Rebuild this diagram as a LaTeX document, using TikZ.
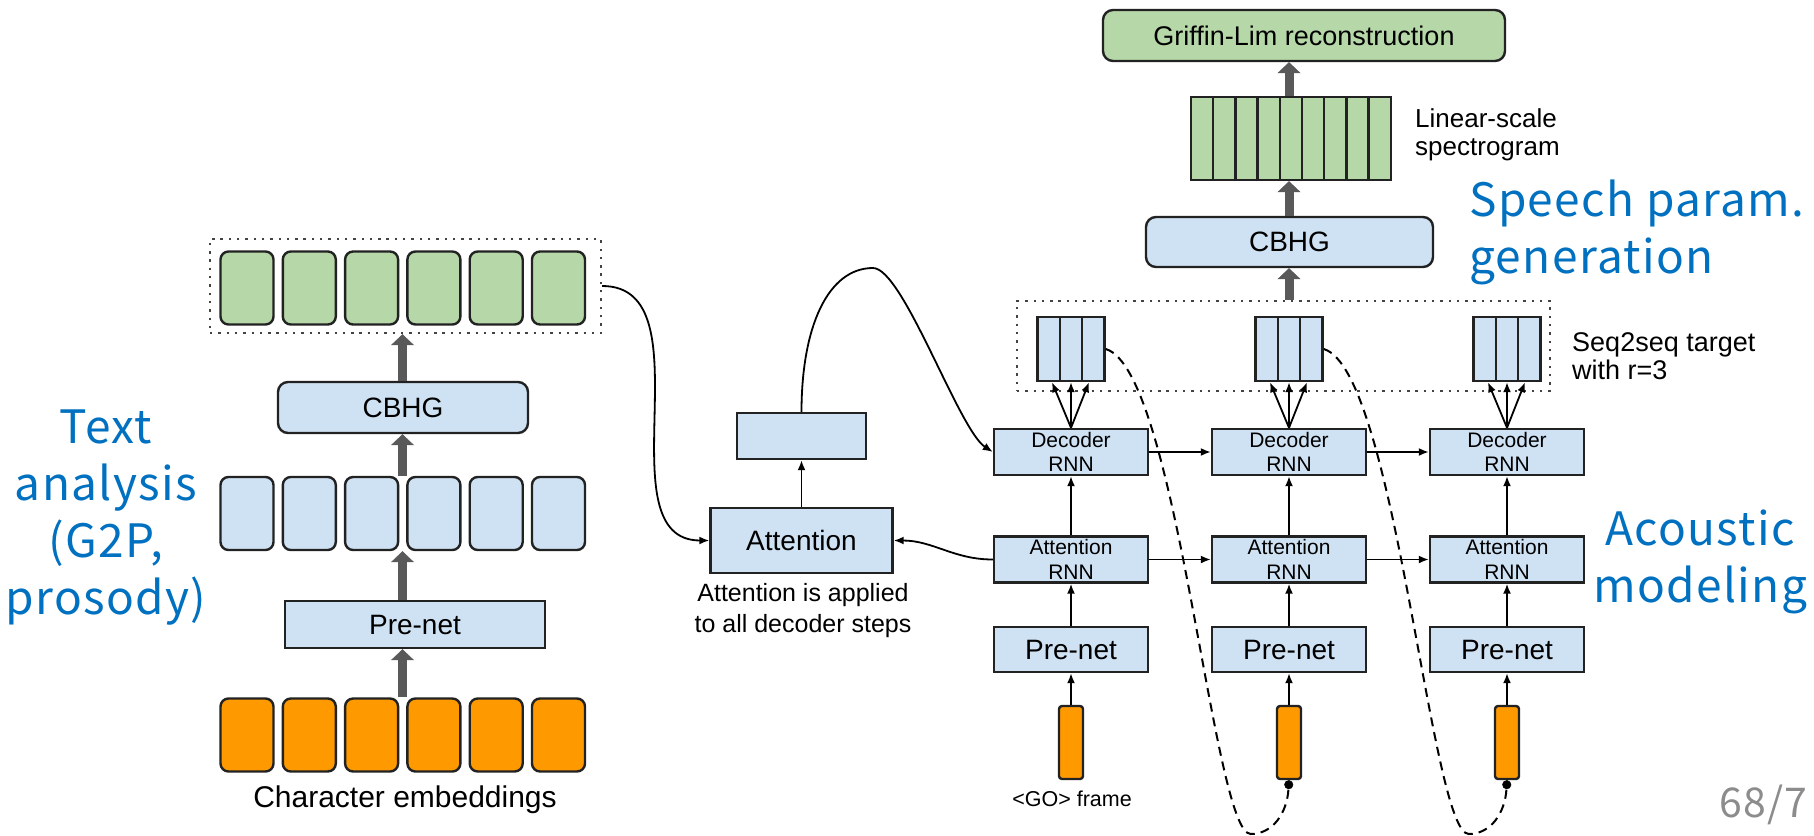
\documentclass[tikz,border=0pt]{standalone}
\usepackage{fontspec}
\setmainfont{Liberation Sans}
\newfontfamily\slidefont[LetterSpace=3]{Noto Sans CJK JP}
\usetikzlibrary{arrows.meta}
\definecolor{boxblue}{HTML}{CFE2F3}
\definecolor{boxgreen}{HTML}{B6D7A8}
\definecolor{boxorange}{HTML}{FF9900}
\definecolor{boxline}{HTML}{222222}
\definecolor{fatgray}{HTML}{595959}
\definecolor{slideblue}{HTML}{0070C0}
\definecolor{pagegray}{HTML}{8C8C8C}
\newcommand{\pxfont}[2]{\fontsize{#1pt}{#2pt}\selectfont}

\begin{document}
\begin{tikzpicture}[x=1pt, y=-1pt,
    box/.style={draw=boxline, line width=2.4pt, fill=boxblue, inner sep=0pt, align=center},
    cell/.style={box, rounded corners=8pt, minimum width=53pt, minimum height=73pt},
    rnnbox/.style={box, minimum width=154pt, minimum height=46pt, font=\pxfont{21}{24.5}},
    netbox/.style={box, minimum width=154pt, minimum height=45pt, font=\pxfont{28}{32}},
    goframe/.style={box, fill=boxorange, rounded corners=3pt, minimum width=24pt, minimum height=73pt},
    dotframe/.style={draw=boxline!85, line width=2.4pt, dash pattern=on 2.4pt off 5.9pt, inner sep=0pt},
    fatarrow/.style={draw=fatgray, line width=9pt, -{Triangle[width=23pt,length=11pt,line width=0.5pt]}},
    thinarrow/.style={draw=black, line width=1.8pt, -{Latex[length=10pt,width=8pt]}},
    feedback/.style={draw=black, line width=2pt, dash pattern=on 9pt off 6pt, -{Circle[length=9pt,line width=0.5pt]}},
    slidelabel/.style={text=slideblue, font=\slidefont\pxfont{46}{57}, align=center, inner sep=0pt},
    smalltext/.style={font=\pxfont{26}{28}, inner sep=0pt, align=left}
]
    \path[use as bounding box, fill=white] (0,0) rectangle (1814,835);
    \coordinate (axisL) at (402.5,0);
    \coordinate (axisR) at (1289,0);

    % encoder
    \node[dotframe, minimum width=391pt, minimum height=94pt] (encout) at (405.5,286) {};
    \foreach \i in {1,...,6} {
        \node[cell, fill=boxgreen] (g\i) at ({247+62.3*(\i-1)},288) {};
        \node[cell] (b\i) at ({247+62.3*(\i-1)},513.5) {};
        \node[cell, fill=boxorange] (c\i) at ({247+62.3*(\i-1)},735) {};
    }
    \node[box, rounded corners=10pt, minimum width=250pt, minimum height=51pt, font=\pxfont{28}{32}] (cbhgL) at (403,407.5) {CBHG};
    \node[box, minimum width=260pt, minimum height=47pt, font=\pxfont{28}{32}] (preL) at (415,624.5) {Pre-net};
    \node[font=\pxfont{30}{34}, inner sep=0pt] (chars) at (405,799.5) {Character embeddings};
    \draw[fatarrow] (axisL |- c1.north) -- (axisL |- preL.south);
    \draw[fatarrow] (axisL |- preL.north) -- (axisL |- b1.south);
    \draw[fatarrow] (axisL |- b1.north) -- (axisL |- cbhgL.south);
    \draw[fatarrow] (axisL |- cbhgL.north) -- (axisL |- encout.south);

    % attention
    \node[box, minimum width=182pt, minimum height=65pt, font=\pxfont{28}{32}] (att) at (801.5,540.5) {Attention};
    \node[box, minimum width=129pt, minimum height=46pt] (ctx) at (801.5,436) {};
    \node[smalltext, font=\pxfont{25}{31}, align=center] (note) at (803,611) {Attention is applied\\to all decoder steps};

    % decoder steps
    \node[dotframe, minimum width=533pt, minimum height=90pt] (targets) at (1283.5,346) {};
    \foreach \i/\cx in {1/1071,2/1289,3/1507} {
        \node[rnnbox] (dec\i) at (\cx,452) {Decoder\\RNN};
        \node[rnnbox] (arn\i) at (\cx,559.5) {Attention\\RNN};
        \node[netbox] (pre\i) at (\cx,649.5) {Pre-net};
        \node[goframe] (go\i) at (\cx,742.5) {};
        \node[box, minimum width=67pt, minimum height=64pt] (tgt\i) at (\cx,349) {};
        \draw[boxline, line width=2.4pt] ([xshift=23.5pt]tgt\i.south west) -- ([xshift=23.5pt]tgt\i.north west)
            ([xshift=45.5pt]tgt\i.south west) -- ([xshift=45.5pt]tgt\i.north west);
        \draw[thinarrow] (go\i) -- (pre\i);
        \draw[thinarrow] (pre\i) -- (arn\i);
        \draw[thinarrow] (arn\i) -- (dec\i);
        \foreach \dx in {-19,0,18}
            \draw[thinarrow] (dec\i.north) -- ([xshift=\dx pt]tgt\i.south);
    }
    \foreach \i/\j in {1/2,2/3} {
        \draw[thinarrow] (dec\i) -- (dec\j);
        \draw[thinarrow] (arn\i) -- (arn\j);
        \draw[feedback] (tgt\i.east) .. controls +(72,21) and +(-38,0) .. ++(145,485)
            .. controls +(22,0) and +(-2,33) .. (go\j.south);
    }
    \node[font=\pxfont{21.5}{24}, inner sep=0pt] (golbl) at (1072,799) {<GO> frame};

    \draw[thinarrow] (encout.east) to[out=0,in=180] (att.west);
    \draw[thinarrow] (att) -- (ctx);
    \draw[thinarrow] (ctx.north) .. controls +(0,-85) and +(-45,0) .. (873,268)
        .. controls +(30,0) and +(-34,-22) .. (dec1.west);
    \draw[thinarrow] (arn1.west) to[out=180,in=0] (att.east);

    % post-processing
    \node[box, minimum width=287pt, minimum height=50pt, rounded corners=10pt, font=\pxfont{28}{32}] (cbhgR) at (1289.5,242) {CBHG};
    \node[box, fill=boxgreen, minimum width=200pt, minimum height=83pt] (spec) at (1291,138.5) {};
    \foreach \k in {1,...,8}
        \draw[boxline, line width=2.4pt] ([xshift=\k*22.2pt+1.2pt]spec.south west) -- ([xshift=\k*22.2pt+1.2pt]spec.north west);
    \node[box, fill=boxgreen, rounded corners=10pt, minimum width=402pt, minimum height=51pt, font=\pxfont{27}{31}] (griffin) at (1304,35.5) {Griffin-Lim reconstruction};
    \draw[fatarrow] (axisR |- targets.north) -- (axisR |- cbhgR.south);
    \draw[fatarrow] (axisR |- cbhgR.north) -- (axisR |- spec.south);
    \draw[fatarrow] (axisR |- spec.north) -- (axisR |- griffin.south);
    \node[smalltext, anchor=west] (linlbl) at (1415,135) {Linear-scale\\spectrogram};
    \node[smalltext, anchor=west, font=\pxfont{27}{28}] (tgtlbl) at (1572,356) {Seq2seq target\\with r=3};

    % slide labels
    \node[slidelabel] (textlbl) at (106,518) {Text\\analysis\\(G2P,\\prosody)};
    \node[slidelabel, align=left, anchor=west] (speechlbl) at (1469,232) {Speech param.\\generation};
    \node[slidelabel] (acoustlbl) at (1700,562) {Acoustic\\modeling};
    \node[text=pagegray, font=\slidefont\pxfont{41}{48}, anchor=base west, inner sep=0pt] (pagenum) at (1719,817) {68/7};
\end{tikzpicture}
\end{document}
